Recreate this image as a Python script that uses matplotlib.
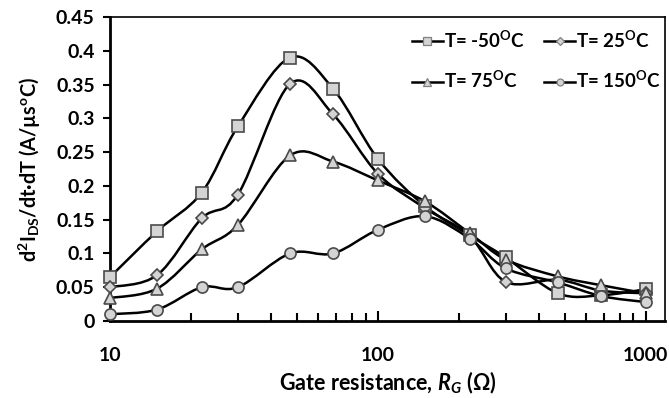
import numpy as np
import matplotlib
matplotlib.use("Agg")
import matplotlib.pyplot as plt
from matplotlib.path import Path
from matplotlib.patches import PathPatch
from matplotlib.lines import Line2D

plt.rcParams['font.family'] = ['Lato', 'DejaVu Sans']
plt.rcParams['font.weight'] = 'bold'
plt.rcParams['axes.labelweight'] = 'bold'
plt.rcParams['mathtext.fontset'] = 'custom'
plt.rcParams['mathtext.rm'] = 'Lato:bold'
plt.rcParams['mathtext.it'] = 'Lato:bold:italic'
plt.rcParams['mathtext.bf'] = 'Lato:bold'

# ---- data ----
resistance = [10, 15, 22, 30, 47, 68, 100, 150, 220, 300, 470, 680, 1000]
t_m50 = [0.065, 0.133, 0.190, 0.288, 0.390, 0.344, 0.240, 0.170, 0.127, 0.094, 0.041, 0.038, 0.047]
t_25 = [0.050, 0.068, 0.152, 0.187, 0.351, 0.306, 0.218, 0.167, 0.126, 0.058, 0.061, 0.045, 0.041]
t_75 = [0.034, 0.048, 0.106, 0.142, 0.245, 0.236, 0.208, 0.177, 0.130, 0.091, 0.066, 0.053, 0.041]
t_150 = [0.010, 0.017, 0.050, 0.050, 0.100, 0.100, 0.135, 0.155, 0.122, 0.078, 0.057, 0.037, 0.028]
labels = [r'T= -50$^{\mathrm{O}}$C', r'T= 25$^{\mathrm{O}}$C',
          r'T= 75$^{\mathrm{O}}$C', r'T= 150$^{\mathrm{O}}$C']
markers = ['s', 'D', '^', 'o']
msizes = [8.5, 6.0, 8.5, 8.0]
y_ticks = [0, 0.05, 0.1, 0.15, 0.2, 0.25, 0.3, 0.35, 0.4, 0.45]
y_tick_labels = ['0', '0.05', '0.1', '0.15', '0.2', '0.25', '0.3', '0.35', '0.4', '0.45']
x_ticks = [10, 100, 1000]
x_tick_labels = ['10', '100', '1000']

FILL = '#d4d4d4'
EDGE = '#4a4a4a'


def smooth_path(x, y):
    """Excel-like smoothed line: Catmull-Rom Bezier in log-x space."""
    u = np.log10(np.asarray(x, float))
    v = np.asarray(y, float)
    n = len(u)
    P = np.column_stack([u, v])
    verts = [P[0]]
    codes = [Path.MOVETO]
    for i in range(n - 1):
        p0 = P[i - 1] if i > 0 else P[i]
        p1 = P[i]
        p2 = P[i + 1]
        p3 = P[i + 2] if i + 2 < n else P[i + 1]
        c1 = p1 + (p2 - p0) / 6.0
        c2 = p2 - (p3 - p1) / 6.0
        verts += [c1, c2, p2]
        codes += [Path.CURVE4] * 3
    verts = np.array(verts)
    verts[:, 0] = 10 ** verts[:, 0]
    return Path(verts, codes)


fig = plt.figure(figsize=(6.69, 3.98), dpi=100)
ax = fig.add_axes([110 / 669, 1 - 321 / 398, 555 / 669, 304 / 398])
ax.set_xscale('log')
ax.set_xlim(10, 1180)
ax.set_ylim(0, 0.45)

series = [t_m50, t_25, t_75, t_150]
handles = []
for vals, mk, ms, lab in zip(series, markers, msizes, labels):
    patch = PathPatch(smooth_path(resistance, vals), fill=False, edgecolor='black',
                      lw=1.8, transform=ax.transData, zorder=2, clip_on=False)
    ax.add_patch(patch)
    ax.plot(resistance, vals, linestyle='none', marker=mk, markersize=ms,
            markerfacecolor=FILL, markeredgecolor=EDGE, markeredgewidth=1.2,
            zorder=3, clip_on=False)
    handles.append(Line2D([], [], color='black', lw=1.8, marker=mk,
                          markersize=ms * 0.62, markerfacecolor=FILL,
                          markeredgecolor='#808080', markeredgewidth=0.9, label=lab))

ax.set_yticks(y_ticks)
ax.set_yticklabels(y_tick_labels)
ax.set_xticks(x_ticks)
ax.set_xticklabels(x_tick_labels)
ax.xaxis.set_minor_locator(matplotlib.ticker.LogLocator(base=10, subs=np.arange(2, 10)))
ax.xaxis.set_minor_formatter(matplotlib.ticker.NullFormatter())

ax.tick_params(axis='y', direction='out', length=5, width=1.5, labelsize=14, pad=6)
ax.tick_params(axis='x', which='major', direction='in', length=7, width=1.5,
               labelsize=14, pad=19)
ax.tick_params(axis='x', which='minor', direction='in', length=6, width=1.5)
ax.tick_params(axis='y', which='minor', left=False)

for s in ['left', 'bottom']:
    ax.spines[s].set_linewidth(2.0)
for s in ['top', 'right']:
    ax.spines[s].set_linewidth(1.2)

ax.set_xlabel(r'Gate resistance, $\mathit{R_G}$ (Ω)', fontsize=15.5, labelpad=4,
              fontweight='bold')
ax.set_ylabel('d$^{2}$I$_{\\mathrm{DS}}$/dt·dT (A/µs$^{\\mathrm{o}}$C)',
              fontsize=14.3, labelpad=9, fontweight='bold')

# row-first ordering as in the reference legend
order = [0, 2, 1, 3]
leg = ax.legend(handles=[handles[i] for i in order], ncol=2, loc='upper left',
                frameon=False, fontsize=13.5, handlelength=1.65, handletextpad=0.08,
                columnspacing=1.0, labelspacing=1.05, borderpad=0, borderaxespad=0,
                bbox_to_anchor=(0.544, 0.96))

fig.savefig('out.png', dpi=100)
